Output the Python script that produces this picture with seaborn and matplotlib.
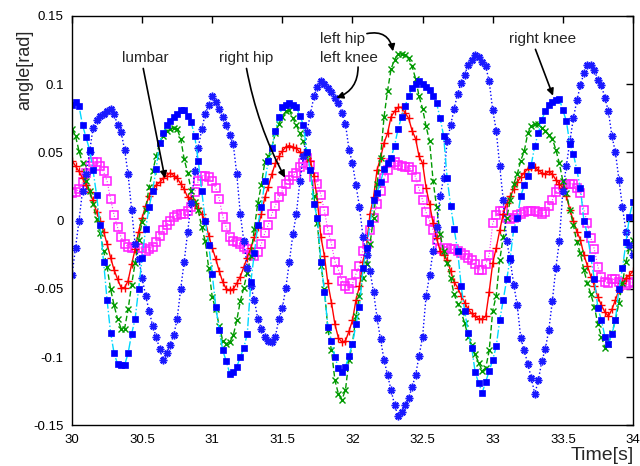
import matplotlib
matplotlib.use("Agg")
import matplotlib.pyplot as plt
import seaborn as sns
import pandas as pd

# time axis (s), sampled every 0.025 s
time = [round(30 + 0.025 * j, 3) for j in range(161)]

lumbar = [
    0.044, 0.04, 0.036, 0.031, 0.026, 0.021, 0.015, 0.006, 0.0, -0.008,
    -0.017, -0.027, -0.036, -0.043, -0.049, -0.049, -0.044, -0.032, -0.021, -0.008,
    0.002, 0.011, 0.018, 0.023, 0.026, 0.028, 0.031, 0.033, 0.035, 0.033,
    0.031, 0.027, 0.023, 0.017, 0.016, 0.013, 0.009, 0.005, 0.0, -0.011,
    -0.02, -0.028, -0.037, -0.045, -0.05, -0.051, -0.05, -0.046, -0.041, -0.034,
    -0.027, -0.02, -0.012, -0.005, 0.005, 0.017, 0.025, 0.034, 0.042, 0.047,
    0.051, 0.054, 0.055, 0.054, 0.053, 0.05, 0.048, 0.046, 0.044, 0.033,
    0.014, -0.012, -0.026, -0.046, -0.06, -0.076, -0.086, -0.089, -0.088, -0.081,
    -0.073, -0.058, -0.048, -0.03, -0.018, 0.005, 0.017, 0.037, 0.046, 0.057,
    0.064, 0.076, 0.08, 0.083, 0.083, 0.079, 0.075, 0.066, 0.06, 0.047,
    0.042, 0.024, 0.012, -0.002, -0.013, -0.022, -0.025, -0.029, -0.037, -0.045,
    -0.049, -0.055, -0.06, -0.065, -0.068, -0.07, -0.072, -0.072, -0.07, -0.052,
    -0.031, -0.02, -0.007, 0.005, 0.013, 0.018, 0.023, 0.028, 0.032, 0.035,
    0.038, 0.039, 0.039, 0.037, 0.035, 0.034, 0.036, 0.034, 0.03, 0.027,
    0.024, 0.018, 0.008, 0.0, -0.008, -0.014, -0.025, -0.033, -0.041, -0.048,
    -0.056, -0.062, -0.067, -0.07, -0.065, -0.058, -0.051, -0.046, -0.042, -0.04,
    -0.037]

right_hip = [
    0.02, 0.021, 0.023, 0.028, 0.035, 0.04, 0.043, 0.043, 0.04, 0.036,
    0.029, 0.016, 0.004, -0.005, -0.012, -0.017, -0.019, -0.02, -0.02, -0.02,
    -0.02, -0.022, -0.021, -0.019, -0.016, -0.011, -0.007, -0.003, 0.0, 0.003,
    0.004, 0.005, 0.005, 0.007, 0.01, 0.021, 0.029, 0.033, 0.033, 0.032,
    0.029, 0.024, 0.016, 0.003, -0.005, -0.012, -0.015, -0.016, -0.017, -0.019,
    -0.021, -0.025, -0.026, -0.023, -0.017, -0.009, -0.003, 0.005, 0.011, 0.017,
    0.022, 0.027, 0.03, 0.033, 0.035, 0.039, 0.042, 0.046, 0.041, 0.032,
    0.027, 0.019, 0.007, -0.007, -0.017, -0.03, -0.036, -0.044, -0.048, -0.05,
    -0.046, -0.039, -0.033, -0.022, -0.017, -0.007, 0.002, 0.012, 0.022, 0.031,
    0.037, 0.042, 0.043, 0.041, 0.04, 0.039, 0.039, 0.037, 0.032, 0.023,
    0.015, 0.006, 0.0, -0.007, -0.014, -0.021, -0.022, -0.02, -0.021, -0.021,
    -0.022, -0.024, -0.025, -0.027, -0.029, -0.032, -0.036, -0.036, -0.032, -0.025,
    -0.002, 0.004, 0.007, 0.007, 0.002, 0.001, 0.002, 0.004, 0.005, 0.006,
    0.007, 0.007, 0.007, 0.006, 0.005, 0.006, 0.011, 0.015, 0.021, 0.023,
    0.026, 0.027, 0.027, 0.027, 0.024, 0.02, 0.008, -0.002, -0.013, -0.021,
    -0.034, -0.041, -0.045, -0.046, -0.043, -0.043, -0.045, -0.046, -0.047, -0.046,
    -0.045]

left_hip = [
    0.067, 0.062, 0.051, 0.042, 0.029, 0.022, 0.012, 0.001, -0.009, -0.022,
    -0.034, -0.05, -0.062, -0.072, -0.079, -0.079, -0.065, -0.047, -0.031, -0.014,
    -0.001, 0.008, 0.025, 0.036, 0.047, 0.057, 0.062, 0.066, 0.067, 0.068,
    0.067, 0.06, 0.045, 0.035, 0.022, 0.014, 0.008, -0.005, -0.015, -0.035,
    -0.056, -0.065, -0.077, -0.088, -0.09, -0.089, -0.084, -0.073, -0.059, -0.049,
    -0.038, -0.026, -0.006, 0.013, 0.026, 0.043, 0.047, 0.054, 0.064, 0.071,
    0.076, 0.08, 0.081, 0.075, 0.07, 0.064, 0.058, 0.049, 0.037, 0.018,
    -0.002, -0.033, -0.05, -0.08, -0.095, -0.117, -0.127, -0.131, -0.124, -0.102,
    -0.09, -0.07, -0.055, -0.042, -0.032, -0.017, 0.002, 0.027, 0.046, 0.076,
    0.095, 0.111, 0.118, 0.122, 0.122, 0.121, 0.119, 0.113, 0.104, 0.091,
    0.082, 0.069, 0.058, 0.029, 0.01, -0.01, -0.022, -0.031, -0.042, -0.054,
    -0.061, -0.067, -0.075, -0.085, -0.091, -0.098, -0.104, -0.11, -0.108, -0.095,
    -0.066, -0.055, -0.029, -0.012, 0.002, 0.015, 0.027, 0.034, 0.044, 0.051,
    0.064, 0.069, 0.071, 0.071, 0.068, 0.066, 0.063, 0.06, 0.052, 0.042,
    0.029, 0.02, 0.008, -0.003, -0.016, -0.024, -0.036, -0.046, -0.054, -0.063,
    -0.076, -0.085, -0.093, -0.09, -0.082, -0.073, -0.06, -0.046, -0.03, -0.02,
    -0.014]

left_knee = [
    -0.04, -0.02, 0.0, 0.022, 0.034, 0.05, 0.068, 0.074, 0.077, 0.078,
    0.08, 0.082, 0.078, 0.07, 0.065, 0.052, 0.034, 0.008, -0.017, -0.028,
    -0.042, -0.055, -0.066, -0.077, -0.085, -0.094, -0.102, -0.097, -0.091, -0.084,
    -0.072, -0.05, -0.03, -0.008, 0.013, 0.036, 0.053, 0.067, 0.078, 0.085,
    0.091, 0.087, 0.082, 0.076, 0.07, 0.063, 0.056, 0.034, 0.005, -0.015,
    -0.035, -0.048, -0.058, -0.072, -0.079, -0.085, -0.088, -0.089, -0.085, -0.072,
    -0.064, -0.049, -0.03, -0.01, 0.005, 0.029, 0.047, 0.065, 0.078, 0.091,
    0.098, 0.102, 0.1, 0.097, 0.094, 0.09, 0.086, 0.079, 0.071, 0.052,
    0.042, 0.026, 0.01, -0.012, -0.025, -0.037, -0.052, -0.071, -0.087, -0.102,
    -0.113, -0.124, -0.135, -0.143, -0.14, -0.135, -0.13, -0.122, -0.113, -0.099,
    -0.085, -0.055, -0.04, -0.022, -0.005, 0.018, 0.031, 0.058, 0.07, 0.082,
    0.093, 0.101, 0.107, 0.114, 0.118, 0.121, 0.12, 0.116, 0.113, 0.102,
    0.081, 0.066, 0.04, 0.015, -0.015, -0.029, -0.047, -0.062, -0.086, -0.095,
    -0.105, -0.115, -0.127, -0.117, -0.103, -0.094, -0.08, -0.059, -0.035, -0.015,
    0.022, 0.04, 0.058, 0.075, 0.088, 0.099, 0.108, 0.114, 0.114, 0.11,
    0.103, 0.099, 0.09, 0.08, 0.062, 0.05, 0.03, 0.01, -0.008, -0.018,
    -0.025]

right_knee = [
    0.085, 0.087, 0.084, 0.07, 0.061, 0.052, 0.037, 0.019, -0.003, -0.03,
    -0.058, -0.082, -0.097, -0.105, -0.106, -0.106, -0.097, -0.083, -0.072, -0.05,
    -0.027, -0.006, 0.01, 0.022, 0.038, 0.057, 0.064, 0.07, 0.073, 0.076,
    0.078, 0.081, 0.081, 0.077, 0.072, 0.062, 0.044, 0.022, 0.0, -0.018,
    -0.039, -0.063, -0.08, -0.095, -0.103, -0.112, -0.111, -0.107, -0.1, -0.093,
    -0.083, -0.045, -0.024, -0.003, 0.01, 0.029, 0.044, 0.053, 0.066, 0.076,
    0.083, 0.085, 0.086, 0.085, 0.083, 0.077, 0.07, 0.05, 0.037, 0.012,
    0.002, -0.03, -0.052, -0.078, -0.088, -0.1, -0.108, -0.111, -0.107, -0.099,
    -0.09, -0.076, -0.063, -0.035, -0.02, -0.002, 0.015, 0.02, 0.028, 0.038,
    0.042, 0.046, 0.055, 0.067, 0.076, 0.084, 0.091, 0.097, 0.1, 0.102,
    0.1, 0.098, 0.096, 0.091, 0.086, 0.075, 0.062, 0.031, 0.011, -0.006,
    -0.022, -0.048, -0.066, -0.082, -0.093, -0.111, -0.119, -0.126, -0.118, -0.11,
    -0.102, -0.092, -0.073, -0.058, -0.043, -0.027, -0.006, 0.002, 0.018, 0.026,
    0.033, 0.041, 0.055, 0.064, 0.074, 0.08, 0.085, 0.087, 0.088, 0.089,
    0.081, 0.073, 0.056, 0.049, 0.037, 0.024, 0.0, -0.01, -0.027, -0.043,
    -0.064, -0.073, -0.085, -0.09, -0.083, -0.073, -0.05, -0.035, -0.016, 0.003,
    0.014]

x_ticks = [30, 30.5, 31, 31.5, 32, 32.5, 33, 33.5, 34]
x_tick_labels = ["30", "30.5", "31", "31.5", "32", "32.5", "33", "33.5", "34"]
y_ticks = [-0.15, -0.1, -0.05, 0, 0.05, 0.1, 0.15]
y_tick_labels = ["-0.15", "-0.1", "-0.05", "0", "0.05", "0.1", "0.15"]

sns.set_style("white")
plt.rcParams['font.family'] = ['Liberation Sans', 'DejaVu Sans']

fig = plt.figure(figsize=(6.4, 4.66), dpi=100)
ax = fig.add_axes([0.1125, 0.087, 0.8765, 0.879])

df = pd.DataFrame({"time": time, "lumbar": lumbar, "right_hip": right_hip,
                   "left_hip": left_hip, "left_knee": left_knee,
                   "right_knee": right_knee})

sns.lineplot(data=df, x="time", y="right_hip", ax=ax, color="#ff22ff", lw=0.8,
             linestyle=":", marker="s", markersize=5.5, markerfacecolor="none",
             markeredgecolor="#ff22ff", markeredgewidth=1.15)
sns.lineplot(data=df, x="time", y="lumbar", ax=ax, color="#ff0000", lw=1.0,
             linestyle="-", marker="+", markersize=5.5, markeredgewidth=1.0,
             markeredgecolor="#ff0000")
sns.lineplot(data=df, x="time", y="left_hip", ax=ax, color="#009a00", lw=1.0,
             linestyle=(0, (4, 2)), marker="x", markersize=4.5, markeredgewidth=1.0,
             markeredgecolor="#009a00")
sns.lineplot(data=df, x="time", y="left_knee", ax=ax, color="#0000ff", lw=1.0,
             linestyle=":", marker=(8, 2, 0), markersize=5.5, markeredgewidth=1.1,
             markeredgecolor="#1a1aff")
sns.lineplot(data=df, x="time", y="right_knee", ax=ax, color="#00d8ff", lw=1.0,
             linestyle="-.", marker="s", markersize=5, markerfacecolor="#0000ff",
             markeredgecolor="#0000ff", markeredgewidth=0.5)

ax.set_xlim(30, 34)
ax.set_ylim(-0.15, 0.15)
ax.set_xticks(x_ticks)
ax.set_xticklabels(x_tick_labels)
ax.set_yticks(y_ticks)
ax.set_yticklabels(y_tick_labels)
ax.tick_params(direction="in", length=5, width=1, top=True, right=True,
               labelsize=9.5, colors="black", pad=6)
for s in ax.spines.values():
    s.set_color("black")
    s.set_linewidth(1.0)
ax.set_xlabel("")
ax.set_ylabel("")

fig.text(25 / 640, 1 - 70 / 466, "angle[rad]", fontsize=13, rotation=90,
         ha="center", va="center")
fig.text(634 / 640, 1 - 456 / 466, "Time[s]", fontsize=14, ha="right", va="center")

ap = dict(arrowstyle="-|>", color="black", lw=1.2, mutation_scale=10,
          shrinkA=0, shrinkB=0)
ax.annotate("lumbar", xy=(30.663, 0.031), xytext=(30.52, 0.119), fontsize=11,
            ha="center", va="center", arrowprops=dict(ap, relpos=(0.45, 0.0)))
ax.annotate("right hip", xy=(31.519, 0.0315), xytext=(31.24, 0.119), fontsize=11,
            ha="center", va="center",
            arrowprops=dict(ap, relpos=(0.5, 0.0), connectionstyle="arc3,rad=0.08"))
ax.text(31.768, 0.133, "left hip", fontsize=11, ha="left", va="center")
ax.text(31.768, 0.119, "left knee", fontsize=11, ha="left", va="center")
ax.annotate("", xy=(32.289, 0.124), xytext=(32.103, 0.137),
            arrowprops=dict(ap, connectionstyle="arc3,rad=-0.5"))
ax.annotate("", xy=(31.885, 0.09), xytext=(32.04, 0.1125),
            arrowprops=dict(ap, connectionstyle="arc3,rad=-0.35"))
ax.annotate("right knee", xy=(33.43, 0.0915), xytext=(33.358, 0.133), fontsize=11,
            ha="center", va="center", arrowprops=dict(ap, relpos=(0.37, 0.0)))

fig.savefig("out.png", dpi=100)
